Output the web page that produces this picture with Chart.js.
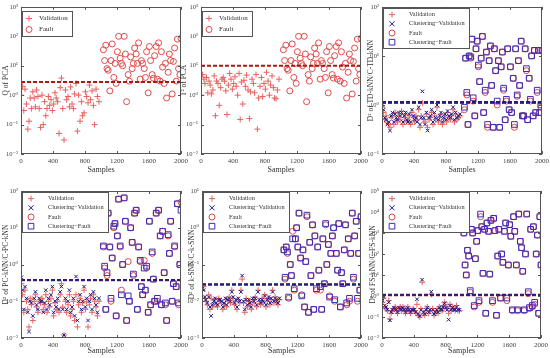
<!DOCTYPE html>
<html>
<head>
<meta charset="utf-8">
<script src="https://cdn.jsdelivr.net/npm/chart.js@4.4.0/dist/chart.umd.min.js"></script>
<style>
  body { margin: 0; background: #fff; width: 550px; height: 358px; position: relative; overflow: hidden; }
  canvas { position: absolute; }
</style>
</head>
<body>
<script>
// ticks on the sample axis
const xTicks = [0, 400, 800, 1200, 1600, 2000];

// sample indices
const validationSamples = [5, 20, 35, 50, 68, 85, 100, 115, 130, 148, 165, 180, 195, 212, 228, 245, 262, 278, 295, 310,
  325, 342, 358, 375, 392, 408, 425, 440, 458, 475, 490, 505, 522, 538, 555, 570, 588, 605, 620, 638,
  655, 670, 688, 705, 720, 738, 755, 770, 788, 805, 820, 838, 855, 870, 888, 905, 920, 938, 955, 975];
const faultSamples = [1030, 1045, 1060, 1075, 1090, 1110, 1125, 1140, 1160, 1175, 1190, 1205, 1220, 1240, 1255, 1270, 1290, 1305, 1320, 1340,
  1355, 1370, 1390, 1405, 1420, 1440, 1455, 1470, 1490, 1505, 1520, 1540, 1555, 1570, 1590, 1605, 1620, 1640, 1655, 1670,
  1690, 1705, 1720, 1740, 1755, 1770, 1790, 1805, 1820, 1840, 1855, 1870, 1890, 1905, 1920, 1940, 1955, 1970, 1985, 2000];

// PCA (Q and T2)
const qPcaVal = [1.0, 2.0, 0.3, 1.6, 0.5, 0.07, 0.13, 0.8, 0.35, 1.3, 0.8, 0.4, 1.5, 0.9, 0.35, 0.08, 1.0, 0.1, 0.6, 0.2,
  0.35, 0.9, 0.45, 0.7, 0.3, 0.5, 1.2, 0.8, 0.6, 0.05, 1.8, 3.8, 0.35, 0.03, 1.5, 0.7, 0.9, 0.4, 1.9, 0.5,
  0.35, 1.1, 2.5, 0.06, 1.0, 0.13, 0.6, 0.2, 0.25, 1.3, 0.9, 0.55, 2.2, 0.7, 1.4, 0.45, 0.1, 1.6, 0.9, 0.6];
const t2PcaVal = [1.0, 5.0, 3.5, 2.5, 4.0, 1.2, 3.0, 2.2, 1.1, 1.5, 4.5, 0.2, 3.0, 2.5, 0.45, 1.8, 3.5, 4.0, 3.0, 1.4,
  0.22, 2.2, 5.5, 3.5, 1.6, 2.5, 4.2, 2.0, 1.0, 5.5, 0.15, 2.8, 0.5, 3.2, 2.0, 4.8, 1.5, 0.16, 1.3, 3.5,
  2.5, 1.2, 5.0, 0.07, 0.8, 2.0, 4.0, 0.9, 2.5, 1.6, 6.0, 3.0, 1.0, 2.2, 4.5, 1.8, 0.8, 0.75, 1.5, 3.5];
const pcaFault = [35, 15, 50, 8, 7, 1.4, 15, 55, 4, 12, 2.5, 30, 100, 18, 12, 10, 100, 25, 0.6, 5,
  3, 20, 8, 12, 40, 25, 12, 60, 3.5, 15, 12, 8, 4, 30, 1.2, 45, 15, 5, 3.8, 22,
  45, 3.5, 60, 3, 30, 9, 2.5, 12, 0.8, 6, 25, 15, 1.1, 14, 40, 3, 80, 8, 5, 85];
const qPcaLimit = 2.8;
const t2PcaLimit = 10;

// TD-kNN / C-TD-kNN
const tdVal = [0.9, 0.7, 0.5, 0.6, 0.45, 0.4, 0.35, 0.55, 0.6, 0.4, 0.7, 0.5, 0.45, 0.6, 0.5, 0.75, 0.4, 0.55, 0.65, 0.45,
  0.5, 0.6, 0.4, 0.7, 0.55, 0.45, 0.6, 0.5, 0.8, 0.35, 0.6, 1.1, 0.5, 0.45, 0.65, 0.35, 0.5, 0.55, 0.7, 0.4,
  0.6, 0.5, 0.9, 0.45, 0.55, 0.65, 0.4, 0.5, 0.6, 0.45, 0.7, 0.55, 0.5, 0.6, 0.8, 0.45, 0.65, 0.5, 0.55, 0.6];
const tdCVal = [1.0, 0.8, 0.55, 0.5, 0.4, 0.45, 0.3, 0.6, 0.7, 0.45, 0.65, 0.55, 0.5, 0.7, 0.6, 0.7, 0.45, 0.6, 0.7, 0.5,
  0.45, 0.65, 0.45, 0.8, 0.6, 0.5, 0.55, 0.45, 0.9, 0.4, 0.55, 1.9, 0.55, 0.4, 0.7, 0.3, 0.55, 0.6, 0.8, 0.45,
  0.7, 0.55, 1.0, 0.5, 0.6, 0.7, 0.45, 0.55, 0.65, 0.5, 0.75, 0.6, 0.55, 0.65, 0.9, 0.5, 0.7, 0.55, 0.6, 0.65];
const tdFault = [0.8, 9, 1.6, 0.4, 10, 9, 22, 1.2, 0.6, 14, 20, 6, 3, 9, 25, 0.7, 1.8, 12, 0.35, 8,
  16, 2.5, 0.35, 14, 5, 1.0, 8, 0.35, 6, 12, 2.0, 0.5, 1.2, 14, 0.8, 6, 0.7, 3.5, 0.35, 14,
  1.5, 8, 2.5, 20, 0.6, 0.6, 14, 5, 0.5, 3.5, 1.2, 10, 0.6, 13, 0.7, 1.8, 13, 0.7, 0.9, 13];
const tdCFault = [0.9, 9, 1.8, 0.4, 10, 9.5, 22, 1.4, 0.6, 14, 20, 6.5, 3, 9, 25, 0.7, 2.0, 12, 0.4, 8,
  16, 2.5, 0.35, 14, 5, 1.2, 8, 0.35, 6, 12, 2.2, 0.5, 1.3, 14, 0.8, 6, 0.7, 3.5, 0.4, 14,
  1.6, 8, 2.5, 20, 0.6, 0.6, 14, 5.5, 0.5, 3.5, 1.3, 10, 0.6, 13, 0.7, 2.0, 13, 0.7, 1.0, 13];
const tdLimit = 1.1;
const tdCLimit = 1.15;

// PC-kNN / C-PC-kNN
const pcVal = [0.3, 0.15, 0.05, 0.2, 0.1, 0.06, 0.02, 0.12, 0.08, 0.03, 0.1, 0.15, 0.07, 0.05, 0.1, 0.09, 0.12, 0.06, 0.08, 0.15,
  0.05, 0.1, 0.07, 0.12, 0.2, 0.04, 0.09, 0.06, 0.1, 0.05, 0.15, 0.3, 0.07, 0.012, 0.1, 0.05, 0.08, 0.15, 0.04, 0.06,
  0.1, 0.03, 0.15, 0.02, 0.08, 0.12, 0.05, 0.09, 0.2, 0.06, 0.1, 0.02, 0.08, 0.12, 0.05, 0.15, 0.1, 0.07, 0.04, 0.1];
const pcCVal = [0.45, 0.2, 0.06, 0.25, 0.12, 0.05, 0.015, 0.1, 0.09, 0.04, 0.12, 0.18, 0.08, 0.06, 0.12, 0.1, 0.1, 0.05, 0.09, 0.2,
  0.06, 0.12, 0.08, 0.15, 0.25, 0.05, 0.1, 0.07, 0.12, 0.06, 0.18, 0.25, 0.06, 0.012, 0.12, 0.06, 0.1, 0.2, 0.05, 0.07,
  0.12, 0.04, 0.47, 0.03, 0.1, 0.15, 0.06, 0.1, 0.25, 0.07, 0.12, 0.03, 0.1, 0.15, 0.06, 0.18, 0.12, 0.08, 0.05, 0.12];
const pcFault = [3, 0.8, 0.06, 0.5, 25, 3, 0.1, 1.5, 10, 13, 0.04, 6, 60, 3, 0.2, 1, 65, 15, 0.03, 1.2,
  0.1, 10, 4, 0.5, 25, 30, 0.06, 3, 1.2, 0.25, 0.15, 1.3, 0.2, 0.8, 0.05, 15, 0.08, 2, 0.4, 0.1,
  25, 0.1, 30, 6, 0.08, 8, 0.6, 0.08, 0.03, 6, 2, 15, 0.1, 0.3, 3, 0.25, 45, 0.08, 1, 50];
const pcCFault = [3.2, 0.9, 0.06, 0.6, 25, 3, 0.12, 1.5, 11, 13, 0.04, 6, 60, 3.2, 0.15, 1, 65, 15, 0.03, 0.14,
  0.1, 10, 4, 0.55, 25, 30, 0.06, 3, 1.3, 0.25, 0.15, 0.8, 0.2, 0.9, 0.05, 15, 0.08, 2.2, 0.4, 0.1,
  25, 0.12, 30, 6, 0.08, 8, 0.6, 0.09, 0.03, 6.5, 2, 15, 0.1, 0.3, 3.2, 0.25, 45, 0.09, 1, 30];
const pcLimit = 0.37;
const pcCLimit = 0.38;

// k-SNN / C-k-SNN
const snnVal = [0.02, 0.025, 0.012, 0.01, 0.008, 0.015, 0.006, 0.012, 0.007, 0.009, 0.011, 0.008, 0.007, 0.012, 0.01, 0.009, 0.006, 0.008, 0.011, 0.007,
  0.01, 0.013, 0.009, 0.02, 0.012, 0.008, 0.01, 0.006, 0.011, 0.009, 0.02, 0.04, 0.009, 0.005, 0.012, 0.007, 0.01, 0.008, 0.006, 0.011,
  0.009, 0.013, 0.007, 0.02, 0.01, 0.008, 0.012, 0.009, 0.015, 0.007, 0.01, 0.012, 0.008, 0.011, 0.02, 0.009, 0.013, 0.01, 0.008, 0.011];
const snnCVal = [0.022, 0.02, 0.013, 0.011, 0.009, 0.013, 0.007, 0.004, 0.008, 0.01, 0.012, 0.009, 0.008, 0.011, 0.011, 0.01, 0.007, 0.009, 0.012, 0.008,
  0.011, 0.012, 0.01, 0.018, 0.013, 0.009, 0.011, 0.007, 0.012, 0.01, 0.018, 0.05, 0.01, 0.006, 0.011, 0.008, 0.011, 0.009, 0.007, 0.012,
  0.01, 0.012, 0.008, 0.018, 0.011, 0.009, 0.011, 0.01, 0.014, 0.008, 0.011, 0.013, 0.009, 0.012, 0.018, 0.01, 0.012, 0.011, 0.009, 0.012];
const snnFault = [0.25, 0.04, 0.3, 0.2, 0.012, 0.1, 0.05, 0.8, 0.02, 0.5, 1.0, 0.3, 2.5, 0.15, 0.015, 0.25, 0.007, 0.12, 2.0, 0.005,
  0.4, 0.05, 1.2, 0.006, 0.6, 0.02, 0.3, 0.07, 0.02, 0.006, 0.5, 0.03, 1.2, 0.1, 0.35, 0.014, 0.2, 0.6, 1.0, 0.01,
  0.2, 0.07, 1.3, 0.007, 0.06, 0.03, 0.25, 1.2, 0.008, 0.5, 0.01, 0.2, 2.5, 0.04, 0.6, 1.5, 0.01, 0.2, 0.02, 2.0];
const snnCFault = [0.25, 0.045, 0.3, 0.22, 0.013, 0.1, 0.05, 0.5, 0.022, 0.5, 1.0, 0.3, 2.5, 0.15, 0.014, 0.25, 0.007, 0.12, 2.2, 0.005,
  0.4, 0.05, 1.2, 0.006, 0.6, 0.022, 0.3, 0.07, 0.025, 0.006, 0.5, 0.03, 1.3, 0.1, 0.35, 0.013, 0.2, 0.6, 1.0, 0.011,
  0.2, 0.07, 1.3, 0.007, 0.06, 0.03, 0.25, 1.2, 0.009, 0.5, 0.012, 0.2, 2.5, 0.045, 0.6, 1.5, 0.012, 0.2, 0.02, 2.0];
const snnLimit = 0.028;
const snnCLimit = 0.029;

// FS-kNN / C-FS-kNN
const fsVal = [0.5, 0.8, 0.3, 0.25, 0.2, 0.6, 0.08, 0.15, 0.2, 0.25, 0.3, 0.2, 0.15, 0.25, 0.3, 0.2, 0.3, 0.25, 0.15, 0.2,
  0.3, 0.2, 0.15, 0.2, 0.25, 0.2, 0.15, 0.4, 0.12, 0.1, 0.25, 4.5, 0.15, 0.12, 0.2, 0.3, 0.15, 0.2, 1.2, 0.25,
  0.12, 0.15, 0.2, 0.15, 0.3, 0.25, 0.2, 0.35, 0.5, 0.3, 0.25, 0.15, 0.4, 0.2, 0.3, 0.25, 0.2, 0.35, 0.2, 0.2];
const fsCVal = [0.6, 0.9, 0.35, 0.3, 0.22, 0.5, 0.07, 0.17, 0.22, 0.28, 0.25, 0.22, 0.17, 0.28, 0.25, 0.22, 0.28, 0.22, 0.17, 0.22,
  0.28, 0.22, 0.17, 0.22, 0.22, 0.22, 0.17, 0.7, 0.14, 0.11, 0.22, 6.0, 0.17, 0.14, 0.22, 0.28, 0.17, 0.22, 1.6, 0.22,
  0.14, 0.17, 0.22, 0.17, 0.28, 0.22, 0.22, 0.3, 0.45, 0.28, 0.22, 0.075, 0.35, 0.22, 0.28, 0.22, 0.22, 0.3, 0.22, 0.22];
const fsFault = [1000, 30, 10, 150, 80, 1.5, 1500, 1000, 0.3, 60, 400, 1300, 0.5, 6000, 2000, 12, 1500, 0.15, 3000, 1200,
  11, 4000, 0.5, 5000, 1300, 0.12, 80, 1500, 0.8, 100, 40, 1200, 3000, 0.6, 30, 2500, 700, 0.2, 6000, 1200,
  30, 0.2, 8000, 400, 200, 15, 0.2, 100, 8000, 1.3, 0.25, 1500, 0.3, 2000, 0.4, 100, 800, 0.15, 6000, 30];
const fsCFault = [1000, 30, 10, 150, 80, 1.8, 1500, 1000, 0.35, 60, 400, 1300, 0.6, 8000, 2000, 12, 1500, 0.15, 3000, 1200,
  11, 4000, 0.6, 5000, 1300, 0.12, 80, 1500, 0.8, 100, 40, 1200, 3000, 0.8, 30, 2500, 700, 0.22, 6000, 1200,
  30, 0.22, 8000, 400, 200, 15, 0.22, 100, 8000, 1.6, 0.28, 1500, 0.35, 2000, 0.5, 100, 800, 0.15, 6000, 30];
const fsLimit = 1.1;
const fsCLimit = 1.15;

const FONT = "'Liberation Serif', 'DejaVu Serif', serif";
const RED = '#e04848';
const BLUE = '#3d2cb8';
const NAVY = '#1c1a8a';

const styles = {
  val:    { label: 'Validation',            pointStyle: 'cross',    color: '#e86060', radius: 3,   order: 5 },
  cval:   { label: 'Clustering\u2212Validation', pointStyle: 'crossRot', color: NAVY,  radius: 2.5, order: 4 },
  fault:  { label: 'Fault',                 pointStyle: 'circle',   color: RED,       radius: 3,   order: 3 },
  cfault: { label: 'Clustering\u2212Fault', pointStyle: 'rect',     color: BLUE,      radius: 4,   order: 2 }
};

const panels = [
  { left: 0,   top: 0,   w: 192, h: 178, yW: 21, xH: 24, padT: 6,  padR: 11, exp: [-2, 3], title: 'Q of PCA',
    series: [['val', validationSamples, qPcaVal], ['fault', faultSamples, pcaFault]],
    limits: [[qPcaLimit, '#b31515']] },
  { left: 178, top: 0,   w: 194, h: 178, yW: 23, xH: 24, padT: 6,  padR: 11, exp: [-2, 3], title: 'T\u00b2 of PCA',
    series: [['val', validationSamples, t2PcaVal], ['fault', faultSamples, pcaFault]],
    limits: [[t2PcaLimit, '#b31515']] },
  { left: 365, top: 0,   w: 188, h: 178, yW: 17, xH: 24, padT: 6,  padR: 11, exp: [-1, 2], title: 'D\u00b2 of TD-kNN/C-TD-kNN',
    series: [['val', validationSamples, tdVal], ['cval', validationSamples, tdCVal], ['fault', faultSamples, tdFault], ['cfault', faultSamples, tdCFault]],
    limits: [[tdLimit, '#b31515'], [tdCLimit, '#2a1a80']] },
  { left: 0,   top: 178, w: 192, h: 180, yW: 21, xH: 20, padT: 13, padR: 11, exp: [-2, 2], title: 'D\u00b2 of PC-kNN/C-PC-kNN',
    series: [['val', validationSamples, pcVal], ['cval', validationSamples, pcCVal], ['fault', faultSamples, pcFault], ['cfault', faultSamples, pcCFault]],
    limits: [[pcLimit, '#b31515'], [pcCLimit, '#2a1a80']] },
  { left: 186, top: 178, w: 186, h: 180, yW: 16, xH: 20, padT: 13, padR: 11, exp: [-3, 1], title: 'D\u00b2 of k-SNN/C-k-SNN',
    series: [['val', validationSamples, snnVal], ['cval', validationSamples, snnCVal], ['fault', faultSamples, snnFault], ['cfault', faultSamples, snnCFault]],
    limits: [[snnLimit, '#b31515'], [snnCLimit, '#2a1a80']] },
  { left: 367, top: 178, w: 185, h: 180, yW: 15, xH: 20, padT: 13, padR: 11, exp: [-2, 5], title: 'D\u00b2 of FS-kNN/C-FS-kNN',
    series: [['val', validationSamples, fsVal], ['cval', validationSamples, fsCVal], ['fault', faultSamples, fsFault], ['cfault', faultSamples, fsCFault]],
    limits: [[fsLimit, '#b31515'], [fsCLimit, '#2a1a80']] }
];

const SUP = { '0': '\u2070', '1': '\u00b9', '2': '\u00b2', '3': '\u00b3', '4': '\u2074', '5': '\u2075', '-': '\u207b' };
function powLabel(v) {
  const e = String(Math.round(Math.log10(v)));
  return '10' + e.split('').map(c => SUP[c]).join('');
}

function drawMarker(ctx, style, r, x, y) {
  ctx.beginPath();
  if (style === 'cross') {
    ctx.moveTo(x - r, y); ctx.lineTo(x + r, y); ctx.moveTo(x, y - r); ctx.lineTo(x, y + r);
  } else if (style === 'crossRot') {
    ctx.moveTo(x - r, y - r); ctx.lineTo(x + r, y + r); ctx.moveTo(x - r, y + r); ctx.lineTo(x + r, y - r);
  } else if (style === 'circle') {
    ctx.arc(x, y, r, 0, Math.PI * 2);
  } else {
    const s = r * Math.SQRT1_2;
    ctx.rect(x - s, y - s, 2 * s, 2 * s);
  }
  ctx.stroke();
}

// frame, inward ticks and legend box
const framePlugin = {
  id: 'frame',
  afterDraw(chart) {
    const { ctx, chartArea: a, scales } = chart;
    const x = scales.x, y = scales.y;
    ctx.save();
    ctx.strokeStyle = '#555';
    ctx.lineWidth = 1;
    ctx.strokeRect(Math.round(a.left) + 0.5, Math.round(a.top) + 0.5, Math.round(a.width) - 1, Math.round(a.height) - 1);
    ctx.beginPath();
    x.ticks.forEach(t => {
      const px = Math.round(x.getPixelForValue(t.value)) + 0.5;
      ctx.moveTo(px, a.bottom); ctx.lineTo(px, a.bottom - 3);
      ctx.moveTo(px, a.top); ctx.lineTo(px, a.top + 3);
    });
    y.ticks.forEach(t => {
      const py = Math.round(y.getPixelForValue(t.value)) + 0.5;
      ctx.moveTo(a.left, py); ctx.lineTo(a.left + 3, py);
      ctx.moveTo(a.right, py); ctx.lineTo(a.right - 3, py);
    });
    ctx.stroke();

    // legend
    const items = chart.data.datasets.filter(d => d.legendKey);
    const many = items.length > 2;
    const rowH = many ? 9.2 : 11;
    const textOff = many ? 26 : 17;
    ctx.font = (many ? '6.3px ' : '7px ') + FONT;
    const tw = Math.max(...items.map(d => ctx.measureText(d.label).width));
    const bx = Math.round(a.left) + 1, by = Math.round(a.top) + (many ? 1 : 4);
    const bw = Math.round(textOff + tw + 4), bh = Math.round(rowH * items.length + 3);
    ctx.fillStyle = '#fff';
    ctx.fillRect(bx, by, bw, bh);
    ctx.strokeStyle = '#555';
    ctx.strokeRect(bx + 0.5, by + 0.5, bw, bh);
    items.forEach((d, i) => {
      const cy = by + 2 + rowH * (i + 0.5);
      ctx.strokeStyle = d.borderColor;
      ctx.lineWidth = 1;
      drawMarker(ctx, d.pointStyle, d.pointRadius, bx + (many ? 9 : 7), cy);
      ctx.fillStyle = '#333';
      ctx.textBaseline = 'middle';
      ctx.fillText(d.label, bx + textOff, cy);
    });
    ctx.restore();
  }
};

panels.forEach((p, idx) => {
  const canvas = document.createElement('canvas');
  canvas.width = p.w;
  canvas.height = p.h;
  canvas.style.left = p.left + 'px';
  canvas.style.top = p.top + 'px';
  document.body.appendChild(canvas);

  const datasets = [];
  p.limits.forEach(([v, color], i) => {
    datasets.push({
      type: 'line',
      label: 'limit' + i,
      data: [{ x: 0, y: v }, { x: 2000, y: v }],
      borderColor: color,
      borderWidth: 2,
      borderDash: [4, 2],
      pointRadius: 0,
      order: 1 - i * 0.5
    });
  });
  p.series.forEach(([key, xs, ys]) => {
    const s = styles[key];
    datasets.push({
      type: 'scatter',
      legendKey: key,
      label: s.label,
      data: xs.map((xv, i) => ({ x: xv, y: ys[i] })).filter(pt => pt.y !== undefined),
      pointStyle: s.pointStyle,
      pointRadius: s.radius,
      pointBorderWidth: 1,
      borderColor: s.color,
      backgroundColor: 'rgba(0,0,0,0)',
      pointBackgroundColor: 'rgba(0,0,0,0)',
      order: s.order
    });
  });

  new Chart(canvas, {
    data: { datasets },
    options: {
      responsive: false,
      animation: false,
      layout: { padding: { top: p.padT, right: p.padR, left: 0, bottom: 0 } },
      plugins: { legend: { display: false }, tooltip: { enabled: false } },
      scales: {
        x: {
          type: 'linear', min: 0, max: 2000,
          afterBuildTicks: s => { s.ticks = xTicks.map(v => ({ value: v })); },
          afterFit: s => { s.height = p.xH; },
          grid: { display: false, drawTicks: false, tickLength: 0 }, border: { display: false },
          ticks: { font: { family: FONT, size: 7 }, color: '#444', padding: 3, maxRotation: 0, autoSkip: false, callback: v => String(v) },
          title: { display: true, text: 'Samples', font: { family: FONT, size: 8 }, color: '#333', padding: { top: 0, bottom: p.top ? 2 : 3 } }
        },
        y: {
          type: 'logarithmic', min: Math.pow(10, p.exp[0]), max: Math.pow(10, p.exp[1]),
          afterBuildTicks: s => {
            const t = [];
            for (let e = p.exp[0]; e <= p.exp[1]; e++) t.push({ value: Math.pow(10, e) });
            s.ticks = t;
          },
          afterFit: s => { s.width = p.yW; },
          grid: { display: false, drawTicks: false, tickLength: 0 }, border: { display: false },
          ticks: { font: { family: FONT, size: 6.5 }, color: '#444', padding: 3, autoSkip: false, callback: v => powLabel(v) },
          title: { display: true, text: p.title, font: { family: FONT, size: 7.5 }, color: '#333', padding: { top: 2, bottom: 0 } }
        }
      }
    },
    plugins: [framePlugin]
  });
});
</script>
</body>
</html>
